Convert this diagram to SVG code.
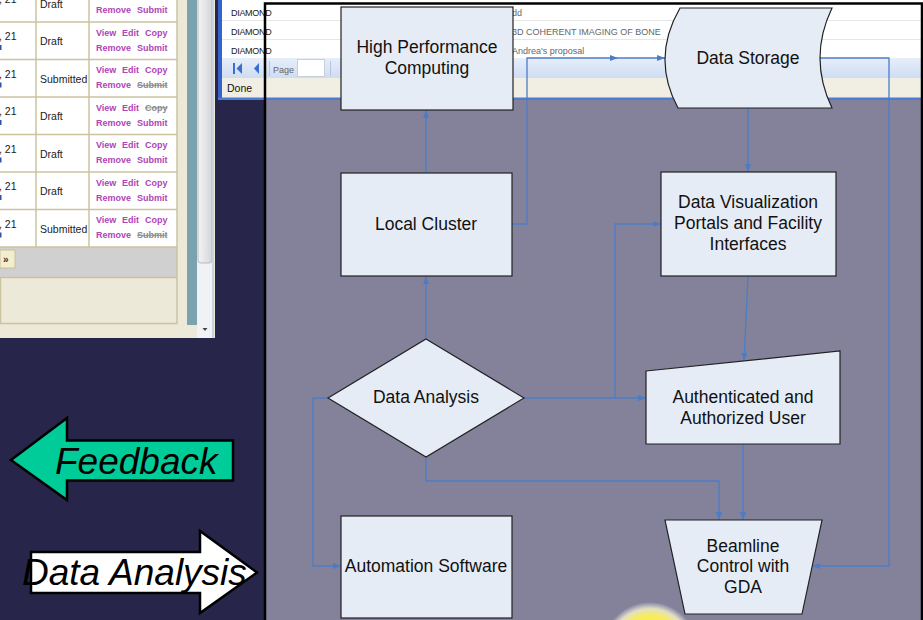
<svg xmlns="http://www.w3.org/2000/svg" width="923" height="620" viewBox="0 0 923 620">
  <defs>
    <style>
      .node { fill: #e6ecf6; stroke: #222; stroke-width: 1.2; }
      .lbl { font-family: "Liberation Sans", Arial, sans-serif; font-size: 17.5px; fill: #111; text-anchor: middle; }
      .conn { fill: none; stroke: #4d7cc6; stroke-width: 1.3; }
      .cell { font-family: "Liberation Sans", Arial, sans-serif; font-size: 10.5px; fill: #222; }
      .lnk { font-family: "Liberation Sans", Arial, sans-serif; font-size: 9px; font-weight: bold; fill: #b044b8; }
      .off { fill: #8a8a8a; text-decoration: line-through; }
      .grid { stroke: #cbc3a0; stroke-width: 1.5; }
      .brow { font-family: "Liberation Sans", Arial, sans-serif; font-size: 9px; fill: #1a1a1a; letter-spacing: -0.3px; }
      .brow2 { font-family: "Liberation Sans", Arial, sans-serif; font-size: 9px; fill: #666; }
      .big { font-family: "Liberation Sans", Arial, sans-serif; font-style: italic; font-size: 37px; fill: #000; }
    </style>
    <marker id="ah" markerUnits="userSpaceOnUse" markerWidth="9" markerHeight="7" refX="8" refY="3" orient="auto">
      <path d="M0,0 L8,3 L0,6 Z" fill="#4d7cc6"/>
    </marker>
    <radialGradient id="glow" cx="0.5" cy="0.5" r="0.5">
      <stop offset="0" stop-color="#f6ea3c"/>
      <stop offset="0.72" stop-color="#f8ec5a"/>
      <stop offset="0.86" stop-color="#fbf6c8" stop-opacity="0.8"/>
      <stop offset="1" stop-color="#ffffff" stop-opacity="0"/>
    </radialGradient>
    <linearGradient id="tb" x1="0" y1="0" x2="0" y2="1">
      <stop offset="0" stop-color="#e6eefa"/>
      <stop offset="1" stop-color="#cfdcf2"/>
    </linearGradient>
    <linearGradient id="thumb" x1="0" y1="0" x2="1" y2="0">
      <stop offset="0" stop-color="#f4f4f4"/>
      <stop offset="1" stop-color="#d6d6d8"/>
    </linearGradient>
  </defs>

  <!-- slide background -->
  <rect x="0" y="0" width="923" height="620" fill="#27264a"/>

  <!-- proposals table window (left) -->
  <g id="table-window">
    <rect x="0" y="0" width="215" height="338" fill="#ece9d8"/>
    <rect x="0" y="0" width="177" height="247" fill="#ffffff"/>
    <rect x="0" y="247" width="177" height="30" fill="#d0d0d0"/>
    <rect x="0.5" y="277.5" width="176.5" height="46" fill="#ece9d8" stroke="#cbc3a0" stroke-width="1.5"/>
    <rect x="0" y="250" width="15" height="18" fill="#f3eecf" stroke="#c9c09a"/>
    <text x="3" y="263" style="font-family:'Liberation Sans',sans-serif;font-size:10px;font-weight:bold;fill:#333">»</text>
    <g class="grid">
      <line x1="36" y1="0" x2="36" y2="247"/>
      <line x1="89" y1="0" x2="89" y2="247"/>
      <line x1="177" y1="0" x2="177" y2="277"/>
      <line x1="0" y1="22" x2="177" y2="22"/>
      <line x1="0" y1="59.5" x2="177" y2="59.5"/>
      <line x1="0" y1="97" x2="177" y2="97"/>
      <line x1="0" y1="134.5" x2="177" y2="134.5"/>
      <line x1="0" y1="172" x2="177" y2="172"/>
      <line x1="0" y1="209.5" x2="177" y2="209.5"/>
      <line x1="0" y1="247" x2="177" y2="247"/>
    </g>
    <!-- row 1 (partly scrolled off) -->
    <text class="cell" x="-1" y="3">, 21</text>
    <text class="cell" x="40" y="8">Draft</text>
    <text class="lnk" x="96" y="13">Remove</text><text class="lnk" x="137" y="13">Submit</text>
    <!-- row 2 -->
    <text class="cell" x="-1" y="40">, 21</text><rect x="0" y="45" width="1.5" height="5" fill="#3350a8"/>
    <text class="cell" x="40" y="45">Draft</text>
    <text class="lnk" x="96" y="35.5">View</text><text class="lnk" x="122" y="35.5">Edit</text><text class="lnk" x="145" y="35.5">Copy</text>
    <text class="lnk" x="96" y="50.5">Remove</text><text class="lnk" x="137" y="50.5">Submit</text>
    <!-- row 3 -->
    <text class="cell" x="-1" y="77.5">, 21</text><rect x="0" y="82.5" width="1.5" height="5" fill="#3350a8"/>
    <text class="cell" x="40" y="82.5">Submitted</text>
    <text class="lnk" x="96" y="73">View</text><text class="lnk" x="122" y="73">Edit</text><text class="lnk" x="145" y="73">Copy</text>
    <text class="lnk" x="96" y="88">Remove</text><text class="lnk off" x="137" y="88">Submit</text>
    <!-- row 4 -->
    <text class="cell" x="-1" y="115">, 21</text><rect x="0" y="120" width="1.5" height="5" fill="#3350a8"/>
    <text class="cell" x="40" y="120">Draft</text>
    <text class="lnk" x="96" y="110.5">View</text><text class="lnk" x="122" y="110.5">Edit</text><text class="lnk off" x="145" y="110.5">Copy</text>
    <text class="lnk" x="96" y="125.5">Remove</text><text class="lnk" x="137" y="125.5">Submit</text>
    <!-- row 5 -->
    <text class="cell" x="-1" y="152.5">, 21</text><rect x="0" y="157.5" width="1.5" height="5" fill="#3350a8"/>
    <text class="cell" x="40" y="157.5">Draft</text>
    <text class="lnk" x="96" y="148">View</text><text class="lnk" x="122" y="148">Edit</text><text class="lnk" x="145" y="148">Copy</text>
    <text class="lnk" x="96" y="163">Remove</text><text class="lnk" x="137" y="163">Submit</text>
    <!-- row 6 -->
    <text class="cell" x="-1" y="190">, 21</text><rect x="0" y="195" width="1.5" height="5" fill="#3350a8"/>
    <text class="cell" x="40" y="195">Draft</text>
    <text class="lnk" x="96" y="185.5">View</text><text class="lnk" x="122" y="185.5">Edit</text><text class="lnk" x="145" y="185.5">Copy</text>
    <text class="lnk" x="96" y="200.5">Remove</text><text class="lnk" x="137" y="200.5">Submit</text>
    <!-- row 7 -->
    <text class="cell" x="-1" y="227.5">, 21</text><rect x="0" y="232.5" width="1.5" height="5" fill="#3350a8"/>
    <text class="cell" x="40" y="232.5">Submitted</text>
    <text class="lnk" x="96" y="223">View</text><text class="lnk" x="122" y="223">Edit</text><text class="lnk" x="145" y="223">Copy</text>
    <text class="lnk" x="96" y="238">Remove</text><text class="lnk off" x="137" y="238">Submit</text>
    <!-- window side strip and scrollbar -->
    <rect x="187" y="0" width="10" height="325" fill="#7ba3af"/>
    <rect x="197" y="0" width="16" height="338" fill="#f1f2f5"/>
    <rect x="198" y="-4" width="14" height="267" rx="3" fill="url(#thumb)" stroke="#b9b9bd"/>
    <path d="M202.5,328 L207.5,328 L205,331 Z" fill="#444"/>
    <rect x="212" y="0" width="2" height="338" fill="#c9d3e4"/>
  </g>

  <!-- browser window behind the chart (top) -->
  <g id="browser-window">
    <rect x="218" y="0" width="705" height="100" fill="#ffffff"/>
    <rect x="218" y="0" width="4" height="100" fill="#3563c9"/>
    <line x1="222" y1="20.5" x2="923" y2="20.5" stroke="#e6e6e6"/>
    <line x1="222" y1="39.5" x2="923" y2="39.5" stroke="#e6e6e6"/>
    <text class="brow" x="231" y="15.5">DIAMOND</text>
    <text class="brow" x="231" y="34.5">DIAMOND</text>
    <text class="brow" x="231" y="54">DIAMOND</text>
    <text class="brow2" x="512" y="15.5">dd</text>
    <text class="brow2" x="512" y="34.5">3D COHERENT IMAGING OF BONE</text>
    <text class="brow2" x="512" y="54">Andrea's proposal</text>
    <rect x="222" y="58" width="701" height="20" fill="url(#tb)"/>
    <rect x="233" y="63" width="2" height="11" fill="#3a6fd0"/>
    <path d="M242,63 L236.5,68.5 L242,74 Z" fill="#3a6fd0"/>
    <path d="M259,63 L254,68.5 L259,74 Z" fill="#3a6fd0"/>
    <line x1="269.5" y1="61" x2="269.5" y2="76" stroke="#b8c4d8"/>
    <text x="273" y="72.5" style="font-family:'Liberation Sans',sans-serif;font-size:9px;fill:#666">Page</text>
    <rect x="297.5" y="59.5" width="27" height="17" fill="#ffffff" stroke="#c5cfdd"/>
    <line x1="330.5" y1="61" x2="330.5" y2="76" stroke="#b8c4d8"/>
    <rect x="222" y="78" width="701" height="20" fill="#f1efe3"/>
    <text x="227" y="92" style="font-family:'Liberation Sans',sans-serif;font-size:10.5px;fill:#111">Done</text>
    <rect x="218" y="97.5" width="705" height="2.5" fill="#4d7bd8"/>
  </g>

  <!-- chart panel -->
  <rect x="265" y="100" width="658" height="520" fill="#83829a"/>
  <rect x="265" y="3.5" width="657" height="620" fill="none" stroke="#000" stroke-width="2.5"/>

  <!-- light spot at the lower edge -->
  <circle cx="650" cy="650" r="48" fill="url(#glow)"/>

  <!-- connectors -->
  <g id="connectors" class="conn">
    <path d="M426,173 V110" marker-end="url(#ah)"/>
    <path d="M426,339 V276" marker-end="url(#ah)"/>
    <path d="M512,224 H527 V58 H618" marker-end="url(#ah)"/>
    <path d="M618,58 H665" marker-end="url(#ah)"/>
    <path d="M748,108 V172" marker-end="url(#ah)"/>
    <path d="M820,58 H889 V566 H812" marker-end="url(#ah)"/>
    <path d="M748,276 L744,361" marker-end="url(#ah)"/>
    <path d="M524,398 H646" marker-end="url(#ah)"/>
    <path d="M615,398 V224 H661" marker-end="url(#ah)"/>
    <path d="M426,457 V481 H719 V520" marker-end="url(#ah)"/>
    <path d="M743,444 V520" marker-end="url(#ah)"/>
    <path d="M328,398 H313 V566 H341" marker-end="url(#ah)"/>
  </g>

  <!-- nodes -->
  <g id="hpc">
    <rect class="node" x="341" y="7" width="172" height="103"/>
    <text class="lbl" x="427" y="53">High Performance</text>
    <text class="lbl" x="427" y="74">Computing</text>
  </g>
  <g id="data-storage">
    <path class="node" d="M680,8 L832,8 Q808,58 832,108 L678,108 Q651,58 680,8 Z"/>
    <text class="lbl" x="748" y="64">Data Storage</text>
  </g>
  <g id="local-cluster">
    <rect class="node" x="341" y="173" width="171" height="103"/>
    <text class="lbl" x="426" y="230">Local Cluster</text>
  </g>
  <g id="data-visualization">
    <rect class="node" x="661" y="172" width="175" height="104"/>
    <text class="lbl" x="748" y="208">Data Visualization</text>
    <text class="lbl" x="748" y="229">Portals and Facility</text>
    <text class="lbl" x="748" y="250">Interfaces</text>
  </g>
  <g id="data-analysis">
    <path class="node" d="M426,339 L524,398 L426,457 L328,398 Z"/>
    <text class="lbl" x="426" y="403">Data Analysis</text>
  </g>
  <g id="user">
    <path class="node" d="M646,371 L840,351 L840,444 L646,444 Z"/>
    <text class="lbl" x="743" y="403">Authenticated and</text>
    <text class="lbl" x="743" y="424">Authorized User</text>
  </g>
  <g id="beamline">
    <path class="node" d="M665,520 L822,520 L802,614 L685,614 Z"/>
    <text class="lbl" x="743" y="552">Beamline</text>
    <text class="lbl" x="743" y="572">Control with</text>
    <text class="lbl" x="743" y="593">GDA</text>
  </g>
  <g id="automation">
    <rect class="node" x="341" y="516" width="171" height="102"/>
    <text class="lbl" x="426" y="572">Automation Software</text>
  </g>

  <!-- direction arrows -->
  <g id="feedback-arrow">
    <path d="M11,460 L67,418 L67,440.5 L233,440.5 L233,480.5 L67,480.5 L67,500 Z" fill="#00cc99" stroke="#000" stroke-width="2.5" stroke-linejoin="miter"/>
    <text class="big" x="55" y="474" font-size="36">Feedback</text>
  </g>
  <g id="analysis-arrow">
    <path d="M31,552 L200,552 L200,531 L257,572.5 L200,613 L200,593 L31,593 Z" fill="#ffffff" stroke="#000" stroke-width="2.5" stroke-linejoin="miter"/>
    <text class="big" x="22" y="585">Data Analysis</text>
  </g>
</svg>
